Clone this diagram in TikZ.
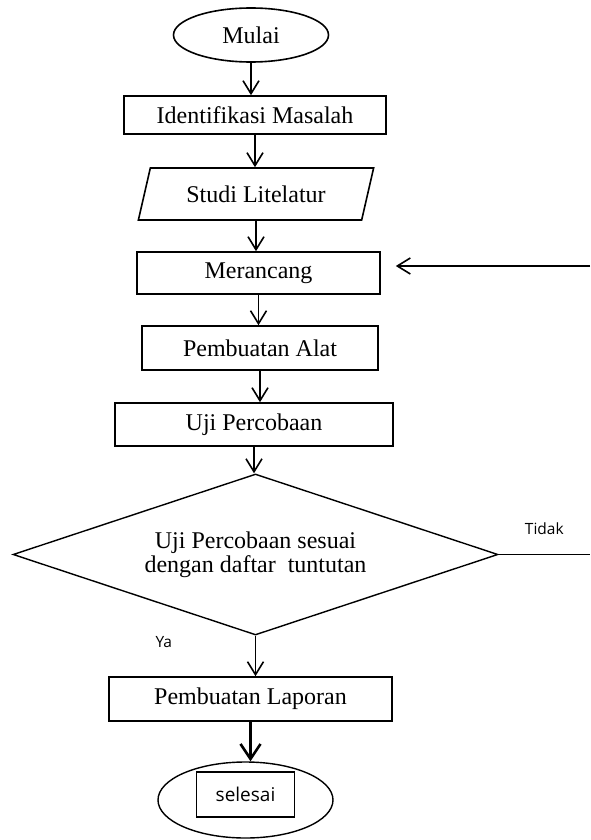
\documentclass[tikz,border=0pt]{standalone}
\usepackage{fontspec}
\setmainfont{Liberation Serif}
\newfontfamily\sansfont{Open Sans}
\usepackage{tikz}
\usetikzlibrary{shapes.geometric}
\usetikzlibrary{arrows.meta}
\tikzstyle{arrow} = [line width=0.8pt,-{Straight Barb[length=6.5pt,width=8pt]}]
\tikzstyle{arrow_2} = [line width=1.3pt,-{Straight Barb[length=7.5pt,width=10pt]}]
\tikzstyle{proses} = [rectangle, draw, line width=0.8pt, inner sep=0pt, font=\fontsize{12}{14}\selectfont]
\tikzstyle{label_sans} = [font=\sansfont\fontsize{7.75}{9}\selectfont]

\begin{document}
\begin{tikzpicture}
            \useasboundingbox (0,0) rectangle (295pt,-420pt);
            \node (mulai) [ellipse, draw, line width=0.8pt, inner sep=0pt, minimum width=77.5pt, minimum height=27pt, font=\fontsize{12}{14}\selectfont] at (125.5pt,-17.5pt) {Mulai};
            \node (identifikasi) [proses, below of=mulai, node distance=40pt, xshift=2pt, minimum width=131pt, minimum height=19pt] {Identifikasi Masalah};
            \node (studi) [trapezium, trapezium left angle=65, trapezium right angle=115, trapezium stretches=true, draw, line width=0.8pt, inner sep=0pt, below of=identifikasi, node distance=39.5pt, xshift=0.5pt, minimum width=118.5pt, minimum height=26pt, font=\fontsize{12}{14}\selectfont] {Studi Litelatur};
            \node (merancang) [proses, below of=studi, node distance=39.5pt, xshift=1.25pt, minimum width=121.5pt, minimum height=21pt] {Merancang};
            \node (alat) [proses, below of=merancang, node distance=37.5pt, xshift=0.75pt, minimum width=118pt, minimum height=22pt] {Pembuatan Alat};
            \node (uji) [proses, below of=alat, node distance=38.25pt, xshift=-3pt, minimum width=139pt, minimum height=21.5pt] {Uji Percobaan};
            \node (cek) [diamond, draw, line width=0.7pt, inner sep=0pt, shape aspect=3, below of=uji, node distance=65pt, xshift=0.75pt, minimum width=242.5pt, minimum height=80.5pt, align=center, font=\fontsize{12}{12}\selectfont] {Uji Percobaan sesuai\\dengan daftar\ \ tuntutan};
            \node (laporan) [proses, below of=cek, node distance=72.25pt, xshift=-2.5pt, minimum width=141.5pt, minimum height=22pt] {Pembuatan Laporan};
            \node (selesai_end) [ellipse, draw, line width=0.7pt, inner sep=0pt, below of=laporan, node distance=50.5pt, xshift=-2.5pt, minimum width=87.5pt, minimum height=38pt] {};
            \node (selesai) [rectangle, draw, line width=0.8pt, at={(selesai_end.center)}, yshift=2.75pt, minimum width=49pt, minimum height=22.5pt, font=\sansfont\fontsize{9.5}{11}\selectfont] {selesai};

            \coordinate (kanan) at (295pt,0);
            \coordinate (tidak_ujung) at (cek.east -| kanan);
            \coordinate (balik) at ([yshift=3.5pt]merancang.east -| kanan);

            \draw [arrow] (mulai) -- (mulai |- identifikasi.north);
            \draw [arrow] (identifikasi) -- (identifikasi |- studi.north);
            \draw [arrow] (studi) -- (studi |- merancang.north);
            \draw [arrow] (merancang) -- (merancang |- alat.north);
            \draw [arrow] (alat) -- (alat |- uji.north);
            \draw [arrow] (uji) -- (uji |- cek.north);
            \draw [arrow] (cek) -- node[pos=0.15, left, xshift=-38pt, label_sans] {Ya} (cek |- laporan.north);
            \draw [arrow_2] (laporan) -- (laporan |- selesai_end.north);
            \draw [line width=0.7pt] (cek.east) -- node[midway, above, yshift=6pt, label_sans] {Tidak} (tidak_ujung);
            \draw [arrow, shorten >=7.5pt] (balik) -- ([yshift=3.5pt]merancang.east);

        \end{tikzpicture}
\end{document}
